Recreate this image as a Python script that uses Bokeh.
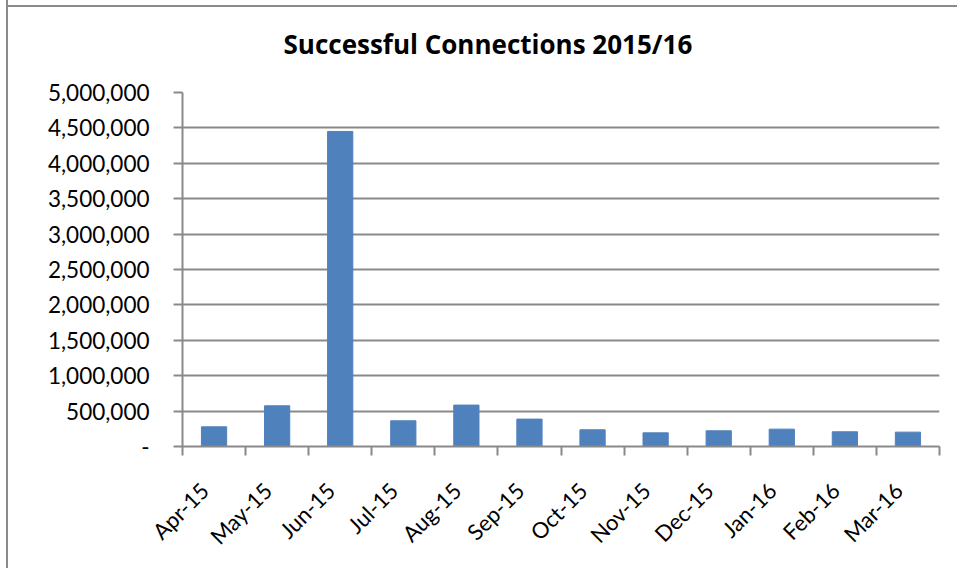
import numpy as np
from bokeh.plotting import figure
from bokeh.models import FixedTicker, NumeralTickFormatter, Range1d, Title
from bokeh.embed import file_html
from bokeh.resources import INLINE

months = ["Apr-15", "May-15", "Jun-15", "Jul-15", "Aug-15", "Sep-15",
          "Oct-15", "Nov-15", "Dec-15", "Jan-16", "Feb-16", "Mar-16"]
connections = [278000, 575000, 4450000, 363000, 585000, 387000,
               236000, 193000, 222000, 245000, 208000, 203000]
yticks = [0, 500000, 1000000, 1500000, 2000000, 2500000, 3000000,
          3500000, 4000000, 4500000, 5000000]
title_text = "Successful Connections 2015/16"

GRAY = "#898989"
FONT = "Lato"

n = len(months)
centers = list(np.arange(n) + 0.5)
bounds = list(np.arange(n + 1).astype(float))
label_shift = -0.15
label_pos = [c + label_shift for c in centers]

FRAME_H = 354
TOP = 104
H = 580
p = figure(width=951, height=H, output_backend="svg", toolbar_location=None,
           x_range=Range1d(0, n), y_range=Range1d(0, 5000000),
           min_border_left=174, min_border_right=20, min_border_top=TOP,
           min_border_bottom=H - TOP - FRAME_H)
p.border_fill_color = None
p.background_fill_color = "white"
p.styles = {
    "margin-left": "6px",
    "margin-top": "-12px",
    "border-left": "2px solid #8a8a8a",
    "background": "linear-gradient(#8a8a8a, #8a8a8a) 0 17px / 100% 2px no-repeat, #ffffff",
}

p.vbar(x=centers, top=connections, width=0.4, color="#4F81BD", line_color="#4F81BD")

t = Title(text=title_text, align="left", offset=101, standoff=62,
          text_font="Open Sans", text_font_size="26px", text_font_style="bold",
          text_color="#000000")
p.add_layout(t, "above")

p.outline_line_color = None
p.xgrid.grid_line_color = None
p.ygrid.grid_line_color = GRAY
p.ygrid.grid_line_width = 2
p.ygrid.ticker = FixedTicker(ticks=yticks)

# y axis
ya = p.yaxis[0]
ya.ticker = FixedTicker(ticks=yticks)
ya.formatter = NumeralTickFormatter(format="0,0")
ya.major_label_overrides = {0: "-"}
ya.axis_line_color = GRAY
ya.axis_line_width = 2
ya.major_tick_line_color = GRAY
ya.major_tick_line_width = 2
ya.major_tick_in = 0
ya.major_tick_out = 9
ya.minor_tick_line_color = None
ya.major_label_standoff = 24
ya.major_label_text_font = FONT
ya.major_label_text_font_size = "22.5px"
ya.major_label_text_color = "#000000"

# x axis
xa = p.xaxis[0]
xa.ticker = FixedTicker(ticks=label_pos, minor_ticks=bounds)
xa.major_label_overrides = {lp: m for lp, m in zip(label_pos, months)}
xa.major_label_orientation = np.pi / 4
xa.axis_line_color = GRAY
xa.axis_line_width = 2
xa.major_tick_line_color = None
xa.minor_tick_line_color = GRAY
xa.minor_tick_line_width = 2
xa.minor_tick_in = 0
xa.minor_tick_out = 9
xa.major_label_standoff = 31
xa.major_label_text_font = FONT
xa.major_label_text_font_size = "22px"
xa.major_label_text_color = "#000000"

open("out.html", "w").write(file_html(p, INLINE))
